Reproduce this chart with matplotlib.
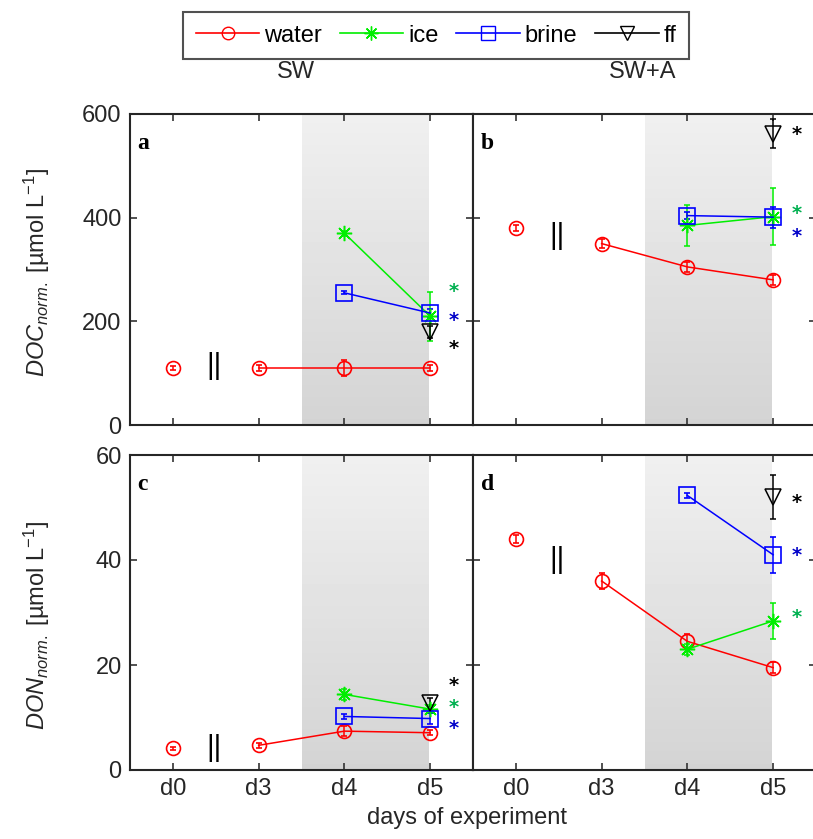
import matplotlib
matplotlib.use("Agg")
import matplotlib.pyplot as plt
import numpy as np

plt.rcParams["font.family"] = ["Liberation Sans", "DejaVu Sans"]
plt.rcParams["mathtext.fontset"] = "custom"
plt.rcParams["mathtext.rm"] = "Liberation Sans"
plt.rcParams["mathtext.it"] = "Liberation Sans:italic"

days = ["d0", "d3", "d4", "d5"]
xi = np.arange(len(days))

# DOC (panels a, b) and DON (panels c, d); water: d0..d5, ice/brine: d4,d5, ff: d5
doc_sw = dict(water=[110, 110, 110, 110], water_e=[4, 5, 15, 6],
              ice=[370, 210], ice_e=[5, 47], brine=[255, 216], brine_e=[3, 8],
              ff=[179], ff_e=[12])
doc_swa = dict(water=[380, 350, 305, 280], water_e=[5, 8, 10, 10],
               ice=[385, 402], ice_e=[40, 55], brine=[404, 401], brine_e=[6, 20],
               ff=[562], ff_e=[28])
don_sw = dict(water=[4.1, 4.7, 7.4, 7.1], water_e=[0.3, 0.5, 1.0, 0.5],
              ice=[14.4, 11.6], ice_e=[1.0, 0.8], brine=[10.2, 9.8], brine_e=[0.5, 1.0],
              ff=[12.8], ff_e=[1.0])
don_swa = dict(water=[44.0, 36.0, 24.5, 19.5], water_e=[0.8, 1.5, 1.5, 1.0],
               ice=[23.0, 28.4], ice_e=[1.0, 3.5], brine=[52.3, 41.0], brine_e=[0.5, 3.4],
               ff=[52.0], ff_e=[4.2])

# significance asterisks next to d5 (colour, y)
stars_a = [("#00b050", 262), ("#0000c8", 205), ("black", 152)]
stars_b = [("black", 564), ("#00b050", 411), ("#0000c8", 367)]
stars_c = [("black", 16.4), ("#00b050", 12.2), ("#0000c8", 8.2)]
stars_d = [("black", 51.4), ("#0000c8", 41.3), ("#00b050", 29.4)]
break_y = [114, 364, 4.2, 40]

W, H = 813, 839
fig = plt.figure(figsize=(W / 100, H / 100), dpi=100)


def px(l, t, r, b):
    return [l / W, 1 - b / H, (r - l) / W, (b - t) / H]


axes = [fig.add_axes(px(130, 114, 473, 425)), fig.add_axes(px(473, 114, 816, 425)),
        fig.add_axes(px(130, 455, 473, 770)), fig.add_axes(px(473, 455, 816, 770))]
data = [doc_sw, doc_swa, don_sw, don_swa]
stars = [stars_a, stars_b, stars_c, stars_d]
ymax = [600, 600, 60, 60]
letters = ["a", "b", "c", "d"]
ast = (8, 2, 0)

grad = np.linspace(0.94, 0.83, 100).reshape(-1, 1)

for k, ax in enumerate(axes):
    d = data[k]
    ax.set_xlim(-0.5, 3.5)
    ax.set_ylim(0, ymax[k])
    ax.imshow(grad, cmap="gray", vmin=0, vmax=1, aspect="auto",
              extent=[1.5, 2.97, 0, ymax[k]], origin="upper", zorder=0)
    ek = dict(capsize=2.5, elinewidth=1.1, capthick=1.1, zorder=3)
    ax.errorbar(xi, d["water"], yerr=d["water_e"], color="red", marker="o", ms=10,
                mfc="none", mew=1.2, ls="none", **ek)
    ax.plot(xi[1:], d["water"][1:], color="red", lw=1.1, zorder=3)
    ax.errorbar(xi[2:], d["ice"], yerr=d["ice_e"], color="#00ee00", marker=ast, ms=11,
                mew=1.1, lw=1.1, **ek)
    ax.errorbar(xi[2:], d["brine"], yerr=d["brine_e"], color="blue", marker="s", ms=11,
                mfc="none", mew=1.2, lw=1.1, **ek)
    ax.errorbar(xi[3:], d["ff"], yerr=d["ff_e"], color="black", marker="v", ms=11,
                mfc="none", mew=1.1, lw=1.1, **ek)
    for c, yv in stars[k]:
        ax.text(3.27, yv, "*", color=c, fontsize=14, fontweight="bold",
                family="DejaVu Sans", ha="center", va="center_baseline", zorder=5)
    ax.text(0.48, break_y[k], "||", fontsize=21, ha="center", va="center", zorder=4)
    ax.text(0.022, 0.905, letters[k], transform=ax.transAxes, fontsize=17,
            fontweight="bold", family="Liberation Serif", va="center", ha="left")
    ax.set_xticks(xi)
    ax.set_yticks(np.linspace(0, ymax[k], 4))
    ax.tick_params(direction="in", top=True, right=True, length=5, width=1.2,
                   labelsize=17, color="#333333", labelcolor="#262626", pad=6)
    for s in ax.spines.values():
        s.set_linewidth(1.5)
        s.set_color("#262626")
    if k < 2:
        ax.set_xticklabels([])
    else:
        ax.set_xticklabels(days)
    if k % 2 == 1:
        ax.set_yticklabels([])

fig.text(37 / W, 1 - 272 / H, r"$DOC_{norm.}$ [µmol L$^{-1}$]", rotation=90,
         ha="center", va="center", fontsize=17, color="#262626")
fig.text(37 / W, 1 - 625 / H, r"$DON_{norm.}$ [µmol L$^{-1}$]", rotation=90,
         ha="center", va="center", fontsize=17, color="#262626")
fig.text(296 / W, 1 - 72 / H, "SW", ha="center", va="center", fontsize=17, color="#262626")
fig.text(643 / W, 1 - 72 / H, "SW+A", ha="center", va="center", fontsize=17, color="#262626")
fig.text(467 / W, 1 - 818 / H, "days of experiment", ha="center", va="center",
         fontsize=17, color="#262626")

handles = [
    plt.Line2D([], [], color="red", marker="o", mfc="none", ms=9, lw=1.2),
    plt.Line2D([], [], color="#00ee00", marker=ast, ms=10, lw=1.2),
    plt.Line2D([], [], color="blue", marker="s", mfc="none", ms=10, lw=1.2),
    plt.Line2D([], [], color="black", marker="v", mfc="none", ms=10, lw=1.2),
]
leg = fig.legend(handles, ["water", "ice", "brine", "ff"], loc="center",
                 bbox_to_anchor=(436 / W, 1 - 35.5 / H), ncol=4, fontsize=17,
                 frameon=True, fancybox=False, handlelength=2.7, handletextpad=0.2,
                 columnspacing=0.75, borderpad=0.55, borderaxespad=0,
                 edgecolor="#262626")
leg.get_frame().set_linewidth(1.5)

fig.savefig("out.png", dpi=100, facecolor="white")
